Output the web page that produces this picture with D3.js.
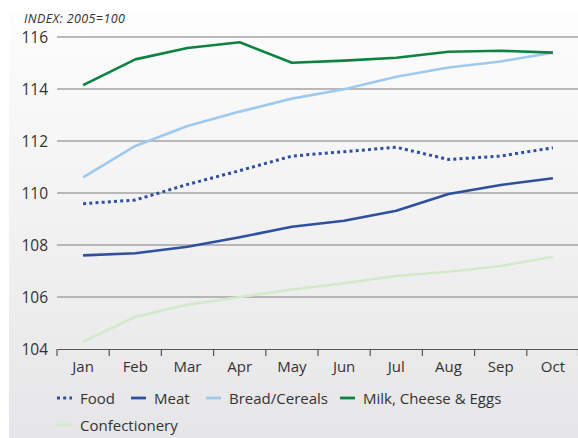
<!DOCTYPE html>
<html><head><meta charset="utf-8">
<script src="https://cdn.jsdelivr.net/npm/d3@7"></script>
<style>
html,body{margin:0;padding:0;background:#fff;}
svg{display:block;font-family:"Open Sans",sans-serif;}
</style></head>
<body>
<svg id="chart" width="578" height="438"></svg>
<script>
const months = ["Jan","Feb","Mar","Apr","May","Jun","Jul","Aug","Sep","Oct"];
const yTicks = [104,106,108,110,112,114,116];
const food = [109.59,109.73,110.33,110.86,111.42,111.59,111.76,111.29,111.42,111.74];
const meat = [107.6,107.68,107.93,108.3,108.7,108.93,109.32,109.96,110.31,110.57];
const bread = [110.6,111.81,112.58,113.13,113.63,113.99,114.47,114.83,115.06,115.4];
const milk = [114.15,115.14,115.58,115.8,115.01,115.09,115.2,115.43,115.47,115.4];
const confectionery = [104.28,105.24,105.7,106.0,106.29,106.53,106.81,106.97,107.19,107.55];
const seriesNames = ["Food","Meat","Bread/Cereals","Milk, Cheese & Eggs","Confectionery"];
const seriesColors = ["#2f4f9f","#2f4f9f","#9fcaee","#0d8241","#d3e9c9"];
const seriesDash = ["3,3.2",null,null,null,null];
const seriesData = [food,meat,bread,milk,confectionery];

const svg = d3.select("#chart");
const defs = svg.append("defs");
const grad = defs.append("linearGradient").attr("id","bg").attr("x1",0).attr("y1",0).attr("x2",0).attr("y2",1);
grad.append("stop").attr("offset","0%").attr("stop-color","#fdfdfd");
grad.append("stop").attr("offset","100%").attr("stop-color","#e6e6e8");
svg.append("rect").attr("x",9).attr("y",10).attr("width",569).attr("height",428).attr("fill","url(#bg)");

const x = d3.scaleBand().domain(months).range([57,579]);
const y = d3.scaleLinear().domain([104,116]).range([349,37]);

// grid
svg.append("g").selectAll("line").data(yTicks.filter(t=>t>104)).join("line")
  .attr("x1",57).attr("x2",578).attr("y1",d=>y(d)).attr("y2",d=>y(d))
  .attr("stroke","#a3a3a3").attr("stroke-width",1.3);

// y labels
svg.append("g").selectAll("text").data(yTicks).join("text")
  .attr("x",48).attr("y",d=>y(d)+5.5).attr("text-anchor","end")
  .attr("font-size",15.5).attr("fill","#333").text(d=>d);

// x axis
const xAxis = d3.axisBottom(x).tickSize(0).tickPadding(12);
const gx = svg.append("g").attr("transform","translate(0,349)").call(xAxis);
gx.select(".domain").attr("stroke","#555").attr("stroke-width",1.2);
gx.selectAll(".tick text").attr("font-size",15).attr("fill","#333").attr("font-family","Open Sans");
const bounds = months.map(m=>x(m)).concat([x(months[months.length-1])+x.bandwidth()-0.5]);
gx.selectAll("line.sep").data(bounds).join("line").attr("class","sep")
  .attr("x1",d=>d).attr("x2",d=>d).attr("y1",0).attr("y2",7).attr("stroke","#555").attr("stroke-width",1.2);

// title
svg.append("text").attr("x",24).attr("y",22.5).attr("font-size",12.5).attr("font-style","italic")
  .attr("letter-spacing",0.4).attr("fill","#333").text("INDEX: 2005=100");

// lines
const line = d3.line().x((d,i)=>x(months[i])+x.bandwidth()/2).y(d=>y(d));
const order = [4,1,0,2,3];
order.forEach(k=>{
  svg.append("path").datum(seriesData[k]).attr("d",line).attr("fill","none")
    .attr("stroke",seriesColors[k]).attr("stroke-width",k===0?3:2.6)
    .attr("stroke-dasharray",seriesDash[k]).attr("stroke-linejoin","round");
});

// legend
const legPos = [[57,398],[131,398],[206,398],[340,398],[57,425]];
const lg = svg.append("g");
seriesNames.forEach((n,k)=>{
  const [lx,ly]=legPos[k];
  lg.append("line").attr("x1",lx).attr("x2",lx+15).attr("y1",ly).attr("y2",ly)
    .attr("stroke",seriesColors[k]).attr("stroke-width",k===0?3:2.8).attr("stroke-dasharray",seriesDash[k]);
  lg.append("text").attr("x",lx+23).attr("y",ly+5.5).attr("font-size",15).attr("fill","#333").text(n);
});
</script>
</body></html>
